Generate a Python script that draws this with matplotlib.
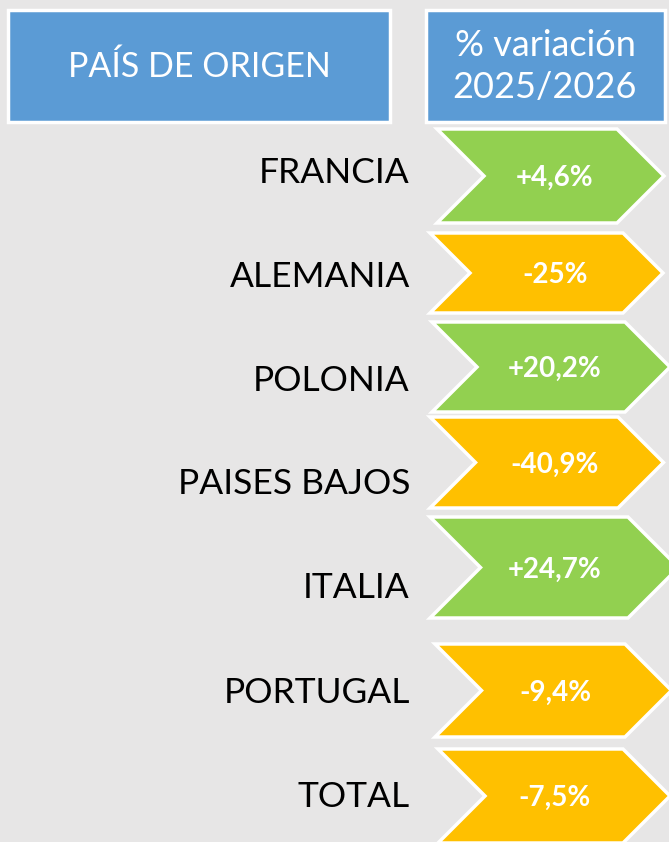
import matplotlib.pyplot as plt
from matplotlib.patches import Polygon, Rectangle

# data
paises = ['FRANCIA', 'ALEMANIA', 'POLONIA', 'PAISES BAJOS', 'ITALIA', 'PORTUGAL', 'TOTAL']
variacion = [4.6, -25, 20.2, -40.9, 24.7, -9.4, -7.5]
header_left = 'PAÍS DE ORIGEN'
header_right = ['% variación', '2025/2026']

# layout of each row in pixels (left x, top-right x, top y, bottom y)
x_left = [437, 430, 432, 430, 430, 435, 438]
x_right = [617, 623, 625, 618, 628, 625, 623]
y_top = [129, 233, 322, 417, 517, 644, 749]
y_bot = [223, 313, 412, 508, 618, 737, 843]
label_y = [173, 277, 381, 484, 588, 693, 797]

bg = '#e7e6e6'
blue = '#5b9bd5'
green = '#92d050'
orange = '#ffc000'

plt.rcParams['font.family'] = ['Lato', 'DejaVu Sans']

fig = plt.figure(figsize=(6.69, 8.42), dpi=100, facecolor=bg)
ax = fig.add_axes([0, 0, 1, 1])
ax.set_xlim(0, 669)
ax.set_ylim(842, 0)
ax.axis('off')
ax.set_facecolor(bg)

# header boxes
ax.add_patch(Rectangle((8, 10), 382, 112, facecolor=blue, edgecolor='white', lw=2.5))
ax.add_patch(Rectangle((426, 10), 239, 112, facecolor=blue, edgecolor='white', lw=2.5))
ax.text(199, 67, header_left, color='white', fontsize=24.5, ha='center', va='center')
ax.text(545, 46, header_right[0], color='white', fontsize=26, ha='center', va='center')
ax.text(545, 87, header_right[1], color='white', fontsize=26, ha='center', va='center')

# chevrons
for i, (pais, v) in enumerate(zip(paises, variacion)):
    t, b = y_top[i], y_bot[i]
    h = b - t
    d = h / 2
    ym = (t + b) / 2
    pts = [(x_left[i], t), (x_right[i], t), (x_right[i] + d, ym),
           (x_right[i], b), (x_left[i], b), (x_left[i] + d, ym)]
    col = green if v > 0 else orange
    ax.add_patch(Polygon(pts, closed=True, facecolor=col, edgecolor='white', lw=2.5))
    txt = f"{v:+g}".replace('.', ',') + '%'
    ax.text(555, ym + 2, txt, color='white', fontsize=20, fontweight='bold',
            ha='center', va='center')
    ax.text(410, label_y[i], pais, color='black', fontsize=25.5, ha='right', va='center')

fig.savefig('out.png', dpi=100, facecolor=bg)
